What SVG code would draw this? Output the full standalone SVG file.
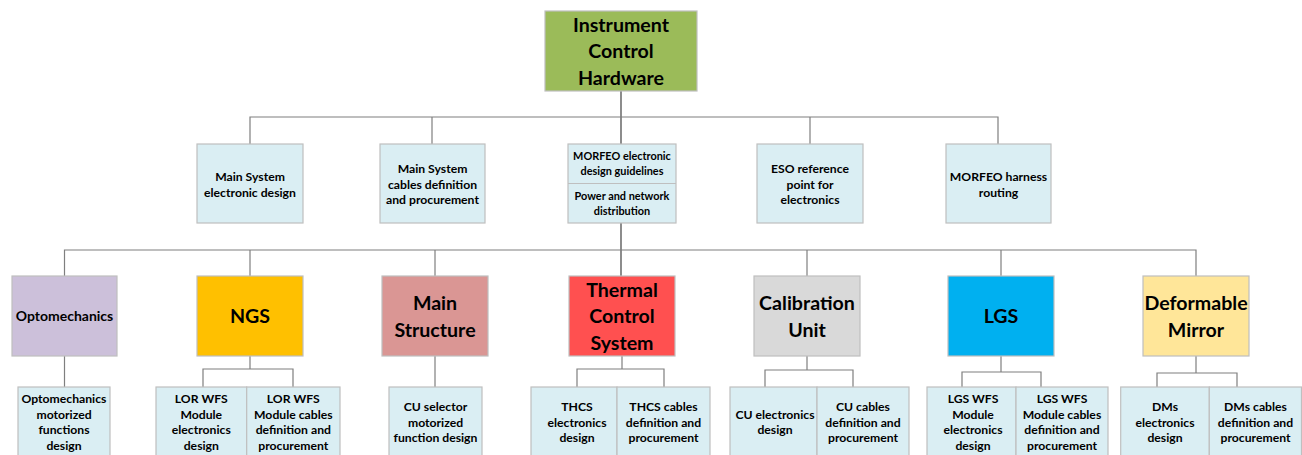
<svg xmlns="http://www.w3.org/2000/svg" width="1302" height="455" viewBox="0 0 1302 455">
<style>
text{font-family:Lato,"Liberation Sans",sans-serif;font-weight:bold;fill:#000;text-anchor:middle}
.box{stroke:#bfbfbf;stroke-width:1.2}
.leaf{fill:#daeef3;stroke:#bfbfbf;stroke-width:1.2}
.big{font-size:19.6px}
.mid{font-size:12.2px}
.sm{font-size:10.9px}
.conn line,.conn polyline{stroke:#7f7f7f;stroke-width:1.2;fill:none}
.conn .dark{stroke:#404040}
</style>
<rect width="1302" height="455" fill="#fff"/>
<g class="conn">
<line class="dark" x1="621" y1="91" x2="621" y2="144"/>
<polyline points="250,144 250,117 998,117 998,144"/>
<line x1="432" y1="117" x2="432" y2="144"/>
<line x1="810" y1="117" x2="810" y2="144"/>
<line class="dark" x1="621" y1="223" x2="621" y2="276"/>
<polyline points="64.5,276 64.5,250 1196,250 1196,276"/>
<line x1="250" y1="250" x2="250" y2="276"/>
<line x1="435" y1="250" x2="435" y2="276"/>
<line x1="807" y1="250" x2="807" y2="276"/>
<line x1="1001" y1="250" x2="1001" y2="276"/>
<line x1="64.5" y1="356" x2="64.5" y2="387"/>
<line x1="435" y1="356" x2="435" y2="387"/>
<line x1="250" y1="356" x2="250" y2="369"/>
<polyline points="203,387 203,369 293,369 293,387"/>
<line x1="622" y1="356" x2="622" y2="369"/>
<polyline points="577,387 577,369 664,369 664,387"/>
<line x1="807" y1="356" x2="807" y2="370"/>
<polyline points="765,387 765,370 853,370 853,387"/>
<line x1="1001" y1="356" x2="1001" y2="372"/>
<polyline points="962,387 962,372 1041,372 1041,387"/>
<line x1="1196" y1="356" x2="1196" y2="373"/>
<polyline points="1157,387 1157,373 1237,373 1237,387"/>
</g>
<g id="root">
<rect class="box" x="545" y="11" width="152" height="80" fill="#9bbb59"/>
<text class="big" x="621" y="31.5">Instrument</text>
<text class="big" x="621" y="58.3">Control</text>
<text class="big" x="621" y="85">Hardware</text>
</g>
<g id="l2-main-system-design">
<rect class="leaf" x="197" y="144" width="106" height="79"/>
<text class="mid" x="250" y="180.5">Main System</text>
<text class="mid" x="250" y="196.5">electronic design</text>
</g>
<g id="l2-main-system-cables">
<rect class="leaf" x="380" y="144" width="105" height="79"/>
<text class="mid" x="432.5" y="173">Main System</text>
<text class="mid" x="432.5" y="188.5">cables definition</text>
<text class="mid" x="432.5" y="204">and procurement</text>
</g>
<g id="l2-morfeo-guidelines">
<rect class="leaf" x="568" y="144" width="108" height="79"/>
<line x1="568" y1="183.5" x2="676" y2="183.5" stroke="#bfbfbf" stroke-width="1.2"/>
<text class="sm" x="622" y="160">MORFEO electronic</text>
<text class="sm" x="622" y="175">design guidelines</text>
<text class="sm" x="622" y="200">Power and network</text>
<text class="sm" x="622" y="214.7">distribution</text>
</g>
<g id="l2-eso-reference">
<rect class="leaf" x="757" y="144" width="106" height="79"/>
<text class="mid" x="810" y="173">ESO reference</text>
<text class="mid" x="810" y="188.5">point for</text>
<text class="mid" x="810" y="204">electronics</text>
</g>
<g id="l2-harness">
<rect class="leaf" x="946" y="144" width="105" height="79"/>
<text class="mid" x="998.5" y="180.5">MORFEO harness</text>
<text class="mid" x="998.5" y="196.5">routing</text>
</g>
<g id="optomechanics">
<rect class="box" x="12" y="276" width="105" height="80" fill="#ccc0da"/>
<text x="64.5" y="321" font-size="14px">Optomechanics</text>
</g>
<g id="ngs">
<rect class="box" x="197" y="276" width="106" height="80" fill="#ffc000"/>
<text class="big" x="250" y="323">NGS</text>
</g>
<g id="main-structure">
<rect class="box" x="382" y="276" width="106" height="80" fill="#da9694"/>
<text class="big" x="435" y="309.8">Main</text>
<text class="big" x="435" y="336.6">Structure</text>
</g>
<g id="thermal">
<rect class="box" x="569" y="276" width="106" height="80" fill="#ff5050"/>
<text class="big" x="622" y="296.5">Thermal</text>
<text class="big" x="622" y="323.2">Control</text>
<text class="big" x="622" y="350">System</text>
</g>
<g id="calibration">
<rect class="box" x="754" y="276" width="106" height="80" fill="#d9d9d9"/>
<text class="big" x="807" y="309.8">Calibration</text>
<text class="big" x="807" y="336.6">Unit</text>
</g>
<g id="lgs">
<rect class="box" x="948" y="276" width="106" height="80" fill="#00b0f0"/>
<text class="big" x="1001" y="323">LGS</text>
</g>
<g id="deformable">
<rect class="box" x="1143" y="276" width="106" height="80" fill="#ffe699"/>
<text class="big" x="1196" y="309.8">Deformable</text>
<text class="big" x="1196" y="336.6">Mirror</text>
</g>
<g id="opto-motorized">
<rect class="leaf" x="18" y="387" width="92" height="72"/>
<text class="mid" x="64" y="402.8">Optomechanics</text>
<text class="mid" x="64" y="418.6">motorized</text>
<text class="mid" x="64" y="434.4">functions</text>
<text class="mid" x="64" y="450.2">design</text>
</g>
<g id="lor-electronics">
<rect class="leaf" x="156" y="387" width="90.7" height="72"/>
<text class="mid" x="201.3" y="402.8">LOR WFS</text>
<text class="mid" x="201.3" y="418.6">Module</text>
<text class="mid" x="201.3" y="434.4">electronics</text>
<text class="mid" x="201.3" y="450.2">design</text>
</g>
<g id="lor-cables">
<rect class="leaf" x="246.7" y="387" width="93.3" height="72"/>
<text class="mid" x="293.3" y="402.8">LOR WFS</text>
<text class="mid" x="293.3" y="418.6">Module cables</text>
<text class="mid" x="293.3" y="434.4">definition and</text>
<text class="mid" x="293.3" y="450.2">procurement</text>
</g>
<g id="cu-selector">
<rect class="leaf" x="389" y="387" width="93" height="72"/>
<text class="mid" x="435.5" y="410.7">CU selector</text>
<text class="mid" x="435.5" y="426.5">motorized</text>
<text class="mid" x="435.5" y="442.3">function design</text>
</g>
<g id="thcs-electronics">
<rect class="leaf" x="531" y="387" width="86" height="72"/>
<text class="mid" x="577" y="410.7">THCS</text>
<text class="mid" x="577" y="426.5">electronics</text>
<text class="mid" x="577" y="442.3">design</text>
</g>
<g id="thcs-cables">
<rect class="leaf" x="617" y="387" width="93" height="72"/>
<text class="mid" x="663.5" y="410.7">THCS cables</text>
<text class="mid" x="663.5" y="426.5">definition and</text>
<text class="mid" x="663.5" y="442.3">procurement</text>
</g>
<g id="cu-electronics">
<rect class="leaf" x="730" y="387" width="87" height="72"/>
<text class="mid" x="775" y="418.6">CU electronics</text>
<text class="mid" x="775" y="434.4">design</text>
</g>
<g id="cu-cables">
<rect class="leaf" x="817" y="387" width="92" height="72"/>
<text class="mid" x="863" y="410.7">CU cables</text>
<text class="mid" x="863" y="426.5">definition and</text>
<text class="mid" x="863" y="442.3">procurement</text>
</g>
<g id="lgs-electronics">
<rect class="leaf" x="927" y="387" width="89" height="72"/>
<text class="mid" x="973" y="402.8">LGS WFS</text>
<text class="mid" x="973" y="418.6">Module</text>
<text class="mid" x="973" y="434.4">electronics</text>
<text class="mid" x="973" y="450.2">design</text>
</g>
<g id="lgs-cables">
<rect class="leaf" x="1016" y="387" width="92" height="72"/>
<text class="mid" x="1062" y="402.8">LGS WFS</text>
<text class="mid" x="1062" y="418.6">Module cables</text>
<text class="mid" x="1062" y="434.4">definition and</text>
<text class="mid" x="1062" y="450.2">procurement</text>
</g>
<g id="dm-electronics">
<rect class="leaf" x="1120.7" y="387" width="88.6" height="72"/>
<text class="mid" x="1165" y="410.7">DMs</text>
<text class="mid" x="1165" y="426.5">electronics</text>
<text class="mid" x="1165" y="442.3">design</text>
</g>
<g id="dm-cables">
<rect class="leaf" x="1209.3" y="387" width="92.2" height="72"/>
<text class="mid" x="1255.5" y="410.7">DMs cables</text>
<text class="mid" x="1255.5" y="426.5">definition and</text>
<text class="mid" x="1255.5" y="442.3">procurement</text>
</g>
</svg>
